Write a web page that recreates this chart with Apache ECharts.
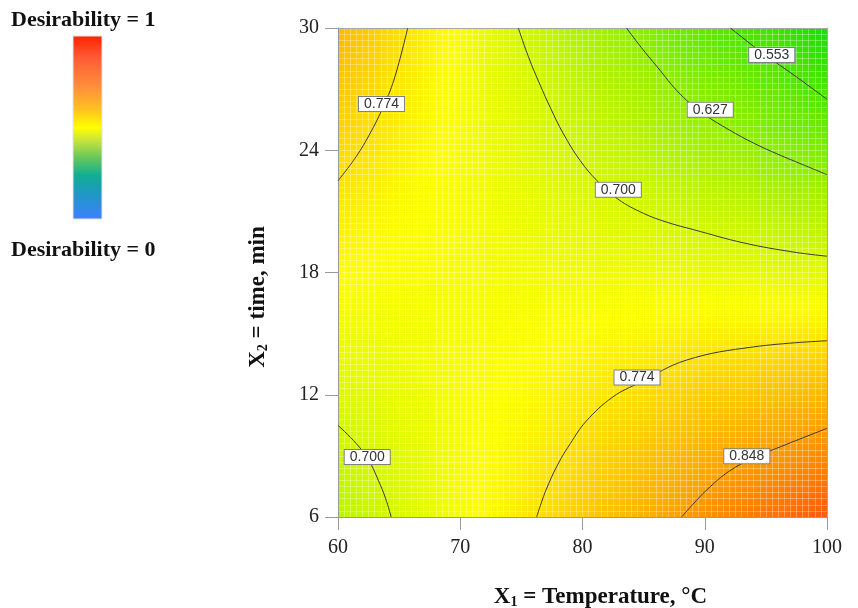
<!DOCTYPE html>
<html><head><meta charset="utf-8">
<script src="https://cdn.jsdelivr.net/npm/echarts@6/dist/echarts.min.js"></script>
<style>html,body{margin:0;padding:0;background:#fff}#c{width:858px;height:608px}</style>
</head><body><div id="c"></div>
<script>
// ---- data ----
const xValues = [60, 64, 68, 72, 76, 80, 84, 88, 92, 96, 100];   // X1 = Temperature, °C
const yValues = [6, 9, 12, 15, 18, 21, 24, 27, 30];               // X2 = time, min
// desirability, one row per yValues entry, one column per xValues entry
const dRow06 = [0.672, 0.697, 0.723, 0.748, 0.772, 0.797, 0.822, 0.849, 0.876, 0.897, 0.920];
const dRow09 = [0.691, 0.708, 0.727, 0.745, 0.762, 0.781, 0.800, 0.819, 0.839, 0.854, 0.871];
const dRow12 = [0.709, 0.720, 0.731, 0.742, 0.752, 0.765, 0.777, 0.790, 0.801, 0.810, 0.820];
const dRow15 = [0.728, 0.731, 0.735, 0.738, 0.742, 0.748, 0.753, 0.759, 0.762, 0.765, 0.768];
const dRow18 = [0.746, 0.742, 0.739, 0.735, 0.732, 0.730, 0.728, 0.725, 0.722, 0.718, 0.714];
const dRow21 = [0.765, 0.753, 0.743, 0.732, 0.722, 0.713, 0.703, 0.692, 0.681, 0.669, 0.660];
const dRow24 = [0.783, 0.764, 0.747, 0.729, 0.712, 0.695, 0.677, 0.658, 0.641, 0.621, 0.603];
const dRow27 = [0.801, 0.775, 0.751, 0.725, 0.703, 0.676, 0.651, 0.623, 0.597, 0.572, 0.542];
const dRow30 = [0.818, 0.786, 0.755, 0.722, 0.690, 0.657, 0.625, 0.586, 0.553, 0.524, 0.478];
const desirability = [dRow06, dRow09, dRow12, dRow15, dRow18, dRow21, dRow24, dRow27, dRow30];

// contour lines [X1, X2]
const contour553 = [[92.1,30],[94.0,29.1],[95.6,28.4],[97.5,27.6],[100,26.5]];
const contour627 = [[83.6,30],[84.8,29.05],[86.1,28.1],[88.0,26.75],[90,25.75],[92,25.0],[94,24.35],[96,23.8],[98,23.3],[100,22.8]];
const contour700Top = [[74.75,30],[75.6,28.55],[76.5,27.25],[77.4,26.05],[78.4,24.85],[79.8,23.5],[81.2,22.5],[82.9,21.6],[85.0,20.9],[87,20.45],[89.1,20.1],[93.2,19.45],[97.3,19.0],[100,18.8]];
const contour774Top = [[60,22.5],[61.5,23.7],[62.6,24.8],[63.6,26.0],[64.6,27.5],[65.7,30]];
const contour700Low = [[60,10.5],[61.5,9.6],[62.5,8.8],[63.3,7.8],[63.9,6.9],[64.35,6]];
const contour774Low = [[76.25,6],[77.0,7.3],[78.0,8.6],[79.0,9.6],[80.3,10.7],[82.5,11.9],[84.7,12.6],[88.5,13.7],[94,14.35],[100,14.65]];
const contour848 = [[88.1,6],[89.0,6.6],[90.2,7.35],[92.0,8.25],[94,8.9],[96.2,9.45],[100,10.35]];
const contours = [contour553, contour627, contour700Top, contour774Top, contour700Low, contour774Low, contour848];

// contour labels
const labelTexts = ['0.553', '0.627', '0.700', '0.774', '0.700', '0.774', '0.848'];
const labelPoints = [[95.48,28.67],[90.45,25.99],[82.93,22.06],[63.56,26.27],[62.39,8.94],[84.46,12.85],[93.44,8.98]];

// ---- styles ----
const CMIN = 0.475, CMAX = 0.925;
const PALETTE = ['#18dc10','#38e200','#5ce800','#84ee00','#acf200','#d4f800','#ffff00','#ffd200','#ffaa00','#ff8000','#ff5510'];
const SERIF = '"Liberation Serif", "Times New Roman", serif';
const SANS = '"Liberation Sans", Arial, sans-serif';

function colorOf(v) {
  const t = Math.min(1, Math.max(0, (v - CMIN) / (CMAX - CMIN)));
  return echarts.color.lerp(t, PALETTE);
}

function tri(pa, va, pb, vb, pc, vc) {
  const dx1 = pb[0]-pa[0], dy1 = pb[1]-pa[1], dv1 = vb-va;
  const dx2 = pc[0]-pa[0], dy2 = pc[1]-pa[1], dv2 = vc-va;
  const det = dx1*dy2 - dx2*dy1;
  const vmin = Math.min(va, vb, vc), vmax = Math.max(va, vb, vc);
  let fill;
  if (Math.abs(det) < 1e-9 || vmax - vmin < 1e-6) {
    fill = colorOf(va);
  } else {
    const a = (dv1*dy2 - dv2*dy1) / det;
    const b = (dx1*dv2 - dx2*dv1) / det;
    const g2 = a*a + b*b;
    const sx = pa[0] + (vmin - va) * a / g2, sy = pa[1] + (vmin - va) * b / g2;
    const ex = pa[0] + (vmax - va) * a / g2, ey = pa[1] + (vmax - va) * b / g2;
    const stops = [];
    for (let k = 0; k <= 4; k++) stops.push({offset: k/4, color: colorOf(vmin + (vmax - vmin) * k / 4)});
    fill = new echarts.graphic.LinearGradient(sx, sy, ex, ey, stops, true);
  }
  return {type: 'polygon', shape: {points: [pa, pb, pc]}, style: {fill: fill, stroke: fill, lineWidth: 0.7}};
}

const cells = [];
for (let j = 0; j < yValues.length - 1; j++) {
  for (let i = 0; i < xValues.length - 1; i++) {
    cells.push([xValues[i], yValues[j], xValues[i+1], yValues[j+1],
      desirability[j][i], desirability[j][i+1], desirability[j+1][i], desirability[j+1][i+1]]);
  }
}

function renderCell(params, api) {
  const x0 = api.value(0), y0 = api.value(1), x1 = api.value(2), y1 = api.value(3);
  const v00 = api.value(4), v10 = api.value(5), v01 = api.value(6), v11 = api.value(7);
  const p00 = api.coord([x0, y0]), p10 = api.coord([x1, y0]);
  const p01 = api.coord([x0, y1]), p11 = api.coord([x1, y1]);
  const pc = api.coord([(x0 + x1) / 2, (y0 + y1) / 2]);
  const vc = (v00 + v10 + v01 + v11) / 4;
  return {type: 'group', children: [
    tri(p00, v00, p10, v10, pc, vc),
    tri(p10, v10, p11, v11, pc, vc),
    tri(p11, v11, p01, v01, pc, vc),
    tri(p01, v01, p00, v00, pc, vc)
  ]};
}

const chart = echarts.init(document.getElementById('c'), null, {renderer: 'canvas'});
const nameRich = {
  a: {fontFamily: SERIF, fontWeight: 'bold', fontSize: 23, color: '#111'},
  s: {fontFamily: SERIF, fontWeight: 'bold', fontSize: 14, color: '#111', verticalAlign: 'bottom'}
};
const series = [{
  type: 'custom', renderItem: renderCell, data: cells, z: 1, silent: true, clip: true,
  xAxisIndex: 0, yAxisIndex: 0, encode: {x: [0, 2], y: [1, 3]}
}];
contours.forEach(c => series.push({
  type: 'line', data: c, smooth: 0.4, symbol: 'none', silent: true, clip: true, z: 5,
  xAxisIndex: 0, yAxisIndex: 0, lineStyle: {color: '#3a3a28', width: 1}
}));
series.push({
  type: 'scatter', z: 6, silent: true, symbolSize: 1, itemStyle: {color: 'rgba(0,0,0,0)'},
  xAxisIndex: 0, yAxisIndex: 0,
  data: labelPoints.map((p, k) => ({value: p, label: {formatter: labelTexts[k]}})),
  label: {show: true, position: 'inside', fontFamily: SANS, fontSize: 14, lineHeight: 14, color: '#333', opacity: 1,
    backgroundColor: '#ffffff', borderColor: '#808080', borderWidth: 1, padding: [0, 5, 0, 5]}
});

chart.setOption({
  animation: false,
  grid: {left: 338, right: 31, top: 28, bottom: 91, containLabel: false, outerBoundsMode: 'none'},
  xAxis: [{
    type: 'value', min: 60, max: 100, interval: 10, position: 'bottom', z: 4,
    axisLine: {show: true, lineStyle: {color: '#9a9a9a'}},
    axisTick: {show: true, length: 13, lineStyle: {color: '#9a9a9a'}},
    axisLabel: {fontFamily: SERIF, fontSize: 20, color: '#222', margin: 21},
    splitLine: {show: false},
    name: '{a|X}{s|1}{a| = Temperature, °C}', nameLocation: 'middle', nameGap: 69,
    nameTextStyle: {rich: nameRich, padding: [0, 0, 0, 36]}
  }, {
    type: 'value', min: 60, max: 100, interval: 0.5, position: 'top', z: 3,
    axisLine: {show: true, lineStyle: {color: '#a8a8a8'}},
    axisTick: {show: false}, axisLabel: {show: false},
    splitLine: {show: true, lineStyle: {color: 'rgba(255,255,255,0.3)', width: 1}}
  }],
  yAxis: [{
    type: 'value', min: 6, max: 30, interval: 6, position: 'left', z: 4,
    axisLine: {show: true, lineStyle: {color: '#9a9a9a'}},
    axisTick: {show: true, length: 13, lineStyle: {color: '#9a9a9a'}},
    axisLabel: {fontFamily: SERIF, fontSize: 20, color: '#222', margin: 19},
    splitLine: {show: false},
    name: '{a|X}{s|2}{a| = time, min}', nameLocation: 'middle', nameGap: 68, nameRotate: 90,
    nameTextStyle: {rich: nameRich, padding: [0, 49, 0, 0]}
  }, {
    type: 'value', min: 6, max: 30, interval: 0.3, position: 'right', z: 3,
    axisLine: {show: true, lineStyle: {color: '#a8a8a8'}},
    axisTick: {show: false}, axisLabel: {show: false},
    splitLine: {show: true, lineStyle: {color: 'rgba(255,255,255,0.3)', width: 1}}
  }],
  graphic: [
    {type: 'text', x: 11, y: 20, style: {text: 'Desirability = 1', font: 'bold 22px ' + SERIF, fill: '#111', verticalAlign: 'middle'}},
    {type: 'rect', shape: {x: 73, y: 36, width: 29, height: 183},
      style: {stroke: '#e4e4e4', lineWidth: 1, fill: new echarts.graphic.LinearGradient(0, 0, 0, 1, [
        {offset: 0, color: '#ff2200'}, {offset: 0.12, color: '#ff5a35'}, {offset: 0.28, color: '#ff8f3c'},
        {offset: 0.4, color: '#ffc020'}, {offset: 0.5, color: '#ffff00'}, {offset: 0.57, color: '#c8e43c'},
        {offset: 0.66, color: '#6cc85a'}, {offset: 0.76, color: '#10ae92'}, {offset: 0.87, color: '#2196c8'},
        {offset: 1, color: '#3f80ff'}])}},
    {type: 'text', x: 11, y: 250, style: {text: 'Desirability = 0', font: 'bold 22px ' + SERIF, fill: '#111', verticalAlign: 'middle'}}
  ],
  series: series
});
</script></body></html>
